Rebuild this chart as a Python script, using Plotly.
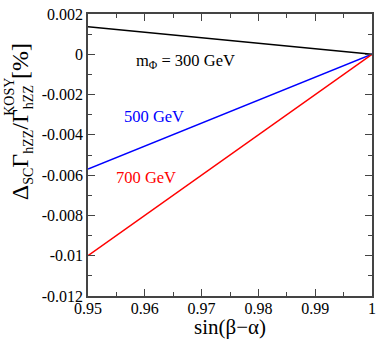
import plotly.graph_objects as go

# sin(beta-alpha) endpoints, lines are straight
sin_ba = [0.95, 1.0]
delta_300 = [0.00137, 0.0]
delta_500 = [-0.0057, 0.0]
delta_700 = [-0.0100, 0.0]

series = [
    ("300 GeV", delta_300, "black"),
    ("500 GeV", delta_500, "blue"),
    ("700 GeV", delta_700, "red"),
]

x_ticks = [0.95, 0.96, 0.97, 0.98, 0.99, 1.0]
x_tick_text = ["0.95", "0.96", "0.97", "0.98", "0.99", "1"]
y_ticks = [-0.012, -0.01, -0.008, -0.006, -0.004, -0.002, 0, 0.002]
y_tick_text = ["-0.012", "-0.01", "-0.008", "-0.006", "-0.004", "-0.002", "0", "0.002"]

FONT = "Liberation Serif, Times New Roman, serif"

fig = go.Figure()
for name, ys, col in series:
    fig.add_trace(go.Scatter(x=sin_ba, y=ys, mode="lines", name=name,
                             line=dict(color=col, width=1.5), showlegend=False))

labels = [
    (0.9581, -0.00033, "m<sub>Φ</sub> = 300 GeV", "black"),
    (0.9559, -0.00309, "500 GeV", "blue"),
    (0.9545, -0.00614, "700 GeV", "red"),
]
for x, y, txt, col in labels:
    fig.add_annotation(x=x, y=y, text=txt, showarrow=False, xanchor="left",
                       yanchor="middle", font=dict(family=FONT, size=16.5, color=col))

# axis titles as annotations so they sit where the reference has them
# (KOSY is its own label so it can sit right above the second hZZ subscript)
sm = '<span style="font-size:14px">%s</span>'
ytitle = ("Δ<sub>" + sm % "SC" + "</sub>Γ<sub>" + sm % "hZZ" + "</sub>/Γ<sub>"
          + sm % "hZZ" + "</sub> [%]")
fig.add_annotation(xref="paper", yref="paper", x=-0.235, y=0.617, text=ytitle,
                   textangle=-90, showarrow=False, xanchor="center", yanchor="middle",
                   font=dict(family=FONT, size=24, color="black"))
fig.add_annotation(xref="paper", yref="paper", x=-0.275, y=0.706, text="KOSY",
                   textangle=-90, showarrow=False, xanchor="center", yanchor="middle",
                   font=dict(family=FONT, size=14, color="black"))
fig.add_annotation(xref="paper", yref="paper", x=0.5, y=-0.111, text="sin(β−α)",
                   showarrow=False, xanchor="center", yanchor="middle",
                   font=dict(family=FONT, size=21, color="black"))

axis_common = dict(
    showgrid=False, zeroline=False, showline=True, linecolor="#444", linewidth=1.5,
    mirror="allticks", ticks="inside", ticklen=7, tickcolor="#444", tickwidth=1,
    tickfont=dict(family=FONT, size=16, color="black"), ticklabeloverflow="allow",
)

fig.update_xaxes(
    range=[0.95, 1.0], tickvals=x_ticks, ticktext=x_tick_text,
    minor=dict(dtick=0.005, ticks="inside", ticklen=4, tickcolor="#444"),
    ticklabelstandoff=-3,
    **axis_common,
)
fig.update_yaxes(
    range=[-0.012, 0.002], tickvals=y_ticks, ticktext=y_tick_text,
    minor=dict(dtick=0.001, ticks="inside", ticklen=4, tickcolor="#444"),
    **axis_common,
)

fig.update_layout(
    width=382, height=340,
    margin=dict(l=88, r=6, t=7, b=44),
    plot_bgcolor="white", paper_bgcolor="white",
)

# page body has a default margin; drop it so the figure fills the window
fig.write_html("out.html", config={"displayModeBar": False},
               post_script="document.body.style.margin='0';")
